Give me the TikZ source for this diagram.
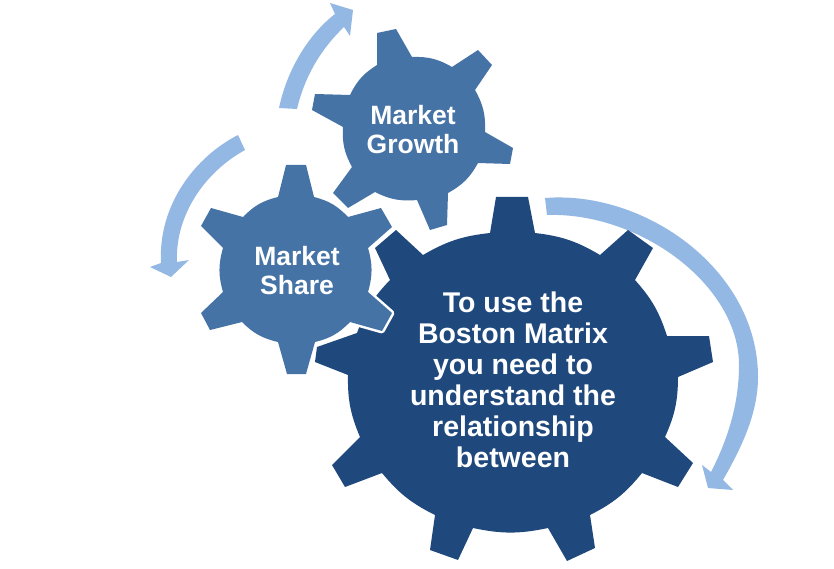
\documentclass[tikz,border=0pt]{standalone}
\usepackage{fontspec}
\setmainfont{Liberation Sans}
\definecolor{bigblue}{HTML}{1F497D}
\definecolor{midblue}{HTML}{4673A6}
\definecolor{lightblue}{HTML}{94B8E4}
\tikzset{
  midgear/.style={fill=midblue},
  haloed/.style={preaction={draw=white,line width=5pt,line join=round}},
  biggearshape/.style={fill=bigblue},
  swoosh/.style={fill=lightblue},
  sixvalley/.style={bend left=16},
  ninevalley/.style={bend left=12},
  gearlabel/.style={text=white,font=\bfseries\fontsize{26.5}{29}\selectfont,align=center,inner sep=0pt},
  biglabel/.style={text=white,font=\bfseries\fontsize{28.5}{31}\selectfont,align=center,inner sep=0pt}
}
\begin{document}
\begin{tikzpicture}[x=1pt,y=-1pt]
\useasboundingbox (0,0) rectangle (834,569);
\fill[white] (0,0) rectangle (834,569);
% swooshes
\fill[swoosh] (279,108) .. controls (287,70) and (308,35) .. (335,14)
  -- (330,3) -- (353,10) -- (350,36) -- (344,27)
  .. controls (322,48) and (305,75) .. (297,109) -- cycle;
\fill[swoosh] (238,135) .. controls (195,157) and (158,205) .. (161,263)
  -- (150,267) -- (171,277) -- (189,260) -- (177,262)
  .. controls (175,215) and (205,172) .. (245,150) -- cycle;
\fill[swoosh] (545,198) .. controls (645,190) and (758,270) .. (758,377)
  .. controls (758,415) and (740,450) .. (723,480)
  -- (733,490) -- (708,488) -- (702,465) -- (711,472)
  .. controls (730,435) and (739,400) .. (739,365)
  .. controls (739,285) and (640,212) .. (547,215) -- cycle;
% large gear
\path[biggearshape] (490,233) -- (496,197) -- (528,197) -- (535,233)
  to[ninevalley] (600,255) -- (628,230) -- (653,248) -- (635,280)
  to[ninevalley] (667,336) -- (709,336) -- (713,362) -- (678,377)
  to[ninevalley] (665,437) -- (693,463) -- (678,487) -- (642,473)
  to[ninevalley] (590,515) -- (595,548) -- (567,561) -- (548,528)
  to[ninevalley] (473,528) -- (458,560) -- (430,550) -- (435,515)
  to[ninevalley] (382,473) -- (345,487) -- (332,465) -- (360,437)
  to[ninevalley] (348,375) -- (315,362) -- (317,347) -- (357,333)
  to[ninevalley] (390,280) -- (375,248) -- (396,230) -- (423,255)
  to[ninevalley] cycle;
% market growth gear
\path[midgear] (377,65) -- (377,33) -- (396,29) -- (412,57)
  to[sixvalley] (452,67) -- (478,50) -- (492,65) -- (475,90)
  to[sixvalley] (485,132) -- (513,148) -- (510,164) -- (478,163)
  to[sixvalley] (448,193) -- (447,225) -- (430,230) -- (417,200)
  to[sixvalley] (375,192) -- (348,208) -- (333,193) -- (352,167)
  to[sixvalley] (343,127) -- (312,110) -- (315,94) -- (350,95)
  to[sixvalley] cycle;
% market share gear
\path[midgear,haloed] (278,197) -- (286,165) -- (306,165) -- (314,197)
  to[sixvalley] (348,217) -- (381,208) -- (392,227) -- (368,248)
  to[sixvalley] (368,292) -- (392,313) -- (382,331) -- (350,322)
  to[sixvalley] (315,342) -- (306,374) -- (287,374) -- (278,342)
  to[sixvalley] (242,322) -- (210,330) -- (201,313) -- (223,292)
  to[sixvalley] (223,248) -- (201,226) -- (211,208) -- (243,217)
  to[sixvalley] cycle;
% labels
\node[gearlabel] (growth) at (413,129.5) {Market\\Growth};
\node[gearlabel] (share) at (297,271) {Market\\Share};
\node[biglabel] (main) at (513,380) {To use the\\Boston Matrix\\you need to\\understand the\\relationship\\between};
\end{tikzpicture}
\end{document}
